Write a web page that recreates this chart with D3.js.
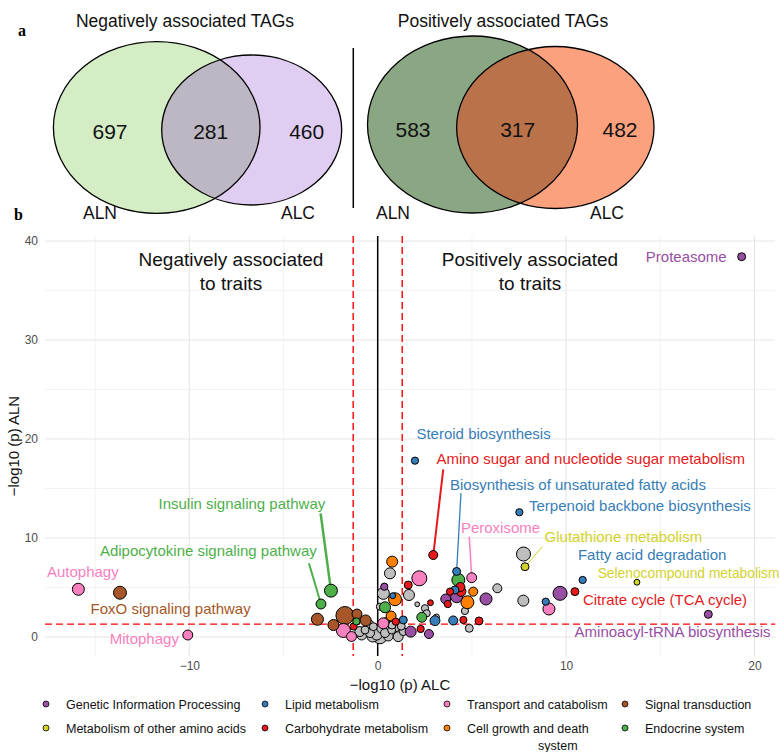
<!DOCTYPE html>
<html><head><meta charset="utf-8">
<script src="https://cdn.jsdelivr.net/npm/d3@7"></script>
<style>
body{margin:0;background:#fff}
svg{display:block;font-family:"Liberation Sans",Arial,Helvetica,sans-serif}
</style>
</head><body><svg id="c" width="780" height="752"></svg>
<script>
// ---------------- DATA ----------------
const vennSetNames = ["ALN", "ALC"];
const vennTitles = ["Negatively associated TAGs", "Positively associated TAGs"];
const vennNegative = [697, 281, 460];   // ALN only, both, ALC only
const vennPositive = [583, 317, 482];

const categories = [
  "Genetic Information Processing", "Lipid metabolism", "Transport and catabolism", "Signal transduction",
  "Metabolism of other amino acids", "Carbohydrate metabolism", "Cell growth and death system", "Endocrine system"
];
const categoryColors = ["#984ea3", "#377eb8", "#f781bf", "#a65628", "#d2d22c", "#e41a1c", "#ff7f00", "#4daf4a"];
const otherColor = "#bebebe";
// category codes: G L T S M C O E, N = other
const catCodes = ["G", "L", "T", "S", "M", "C", "O", "E"];

const pointCategory = ["T","S","T","E","E","S","S","S","S","S","T","T","C","E","N","N","N","N","N","N",
  "N","N","N","N","N","N","N","N","N","N","N","G","L","O","O","E","O","T","C","L",
  "N","C","T","N","N","C","N","E","L","G","C","G","C","L","L","E","T","C","C","C",
  "G","G","C","O","O","G","N","N","N","C","C","L","L","N","M","N","L","G","C","L",
  "T","L","M","G","G","N","N","N","N","N","N","N"];
const pointALC = [-15.89,-13.68,-10.08,-2.48,-3.01,-3.20,-1.74,-1.10,-0.64,-2.35,-1.82,-1.39,-1.28,-1.13,-0.85,-0.67,-0.26,0.12,-0.23,0.21,
  0.56,0.74,1.09,1.36,0.02,-0.41,0.39,0.76,0.12,0.30,0.65,0.35,0.80,0.92,0.77,0.39,0.71,0.30,0.96,1.36,
  1.66,1.62,2.21,2.10,2.51,2.80,2.60,2.34,3.04,1.75,2.28,2.72,2.95,1.98,4.19,4.28,4.99,4.39,4.42,3.84,
  4.19,3.61,3.72,4.76,5.07,5.75,6.35,4.63,4.86,4.55,5.38,4.01,4.10,7.74,7.82,7.73,7.52,9.68,10.47,8.92,
  9.09,10.88,13.76,17.55,19.32,3.12,-0.45,0.95,-0.95,1.25,-0.05,0.45];
const pointALN = [4.82,4.47,0.20,4.68,3.33,1.79,2.17,2.32,1.67,1.21,0.66,0.05,1.06,1.57,0.20,0.71,0.10,0.02,1.04,0.88,
  0.10,0.71,0.03,0.54,0.50,0.40,0.40,1.21,3.06,4.41,6.43,5.08,4.17,3.81,7.61,3.00,2.12,1.38,1.55,1.72,
  4.24,5.25,5.93,3.30,2.90,3.46,2.39,1.99,1.65,0.54,0.81,0.30,8.28,17.81,6.62,5.76,5.99,5.05,4.60,4.58,
  4.07,3.84,3.33,3.51,4.58,3.84,4.92,2.63,0.88,1.72,1.62,1.67,4.75,8.38,7.10,3.67,12.60,4.41,4.58,3.57,
  2.83,5.76,5.53,2.29,38.41,2.02,1.30,1.00,0.55,1.10,0.25,1.60];
const pointGenes = [25,29,17,29,17,25,56,17,21,21,34,17,9,9,17,11,25,34,11,17,
  17,11,17,11,25,14,14,11,9,25,21,9,6,29,21,21,17,21,9,11,
  21,11,39,4,9,6,9,17,17,21,9,14,14,9,11,29,17,14,17,9,
  25,17,9,29,14,25,14,9,11,9,11,14,11,34,11,21,9,34,11,9,
  25,9,6,11,11,6,14,14,17,11,21,9];

const xTicks = [-10, 0, 10, 20];
const yTicks = [0, 10, 20, 30, 40];
const xMinor = [-15, -5, 5, 15];
const yMinor = [5, 15, 25, 35];
const threshold = 1.301; // -log10(0.05)

const labelText = ["Proteasome","Steroid biosynthesis","Amino sugar and nucleotide sugar metabolism",
  "Biosynthesis of unsaturated fatty acids","Terpenoid backbone biosynthesis","Peroxisome","Glutathione metabolism",
  "Fatty acid degradation","Selenocompound metabolism","Citrate cycle (TCA cycle)","Aminoacyl-tRNA biosynthesis",
  "Insulin signaling pathway","Adipocytokine signaling pathway","Autophagy","FoxO signaling pathway","Mitophagy"];
const labelPoint = [84,53,52,54,76,56,74,81,82,78,83,3,4,0,1,2];

// ---------------- LAYOUT (label placement, in data units) ----------------
const labelX = [16.38,5.62,11.31,10.63,13.92,6.52,13.04,14.57,16.40,15.25,15.65,-7.21,-8.99,-15.65,-10.99,-12.39];
const labelY = [38.41,20.58,17.98,15.35,13.26,11.08,10.13,8.28,6.43,3.74,0.54,13.43,8.72,6.60,2.90,-0.13];
const labelSize = {8: 13.8};
const leaderStart = {2:[3.48,16.94], 3:[4.42,14.52], 5:[4.86,10.13], 6:[8.74,9.12], 11:[-3.03,12.49], 12:[-3.65,7.44]};
const leaderWidth = {2:2, 3:1.3, 5:1.5, 6:1, 11:2.5, 12:2};

// ---------------- DRAW ----------------
const svg = d3.select("#c");
const colorOf = c => c === "N" ? otherColor : categoryColors[catCodes.indexOf(c)];

// panel letters
svg.append("text").attr("x", 18).attr("y", 36).attr("font-family", "Liberation Serif, Times New Roman, serif")
  .attr("font-weight", "bold").attr("font-size", 16).text("a");
svg.append("text").attr("x", 14).attr("y", 220).attr("font-family", "Liberation Serif, Times New Roman, serif")
  .attr("font-weight", "bold").attr("font-size", 16).text("b");

// Venn diagrams
const defs = svg.append("defs");
function venn(cfg, counts, title, idx) {
  const g = svg.append("g");
  const [A, B] = cfg.ell;
  g.append("ellipse").attr("cx", A.cx).attr("cy", A.cy).attr("rx", A.rx).attr("ry", A.ry).attr("fill", cfg.colA);
  g.append("ellipse").attr("cx", B.cx).attr("cy", B.cy).attr("rx", B.rx).attr("ry", B.ry).attr("fill", cfg.colB);
  const cid = "clipA" + idx;
  defs.append("clipPath").attr("id", cid).append("ellipse")
    .attr("cx", A.cx).attr("cy", A.cy).attr("rx", A.rx).attr("ry", A.ry);
  g.append("ellipse").attr("cx", B.cx).attr("cy", B.cy).attr("rx", B.rx).attr("ry", B.ry)
    .attr("fill", cfg.colAB).attr("clip-path", `url(#${cid})`);
  [A, B].forEach(e => g.append("ellipse").attr("cx", e.cx).attr("cy", e.cy).attr("rx", e.rx).attr("ry", e.ry)
    .attr("fill", "none").attr("stroke", "#000").attr("stroke-width", 1.3));
  counts.forEach((v, i) => g.append("text").attr("x", cfg.numX[i]).attr("y", cfg.numY).attr("dy", "0.36em")
    .attr("text-anchor", "middle").attr("font-size", 21).attr("fill", "#111").text(v));
  vennSetNames.forEach((n, i) => g.append("text").attr("x", cfg.setX[i]).attr("y", 219)
    .attr("text-anchor", "middle").attr("font-size", 17.5).attr("fill", "#111").text(n));
  g.append("text").attr("x", cfg.titleX).attr("y", 27).attr("text-anchor", "middle")
    .attr("font-size", 17.5).attr("fill", "#111").text(title);
}
venn({ell:[{cx:156.7,cy:127.5,rx:103.3,ry:85.8},{cx:251.7,cy:130,rx:90,ry:75}],
  colA:"#d4edc5", colB:"#e0cdf2", colAB:"#bcb7c3", numX:[110,210.7,306.7], numY:131.7,
  setX:[100,298], titleX:185}, vennNegative, vennTitles[0], 0);
venn({ell:[{cx:472.5,cy:124.5,rx:105,ry:88.5},{cx:555.3,cy:127.5,rx:98.7,ry:81}],
  colA:"#8ba682", colB:"#fca17d", colAB:"#b9724a", numX:[413,517.7,620], numY:129,
  setX:[393,607], titleX:503}, vennPositive, vennTitles[1], 1);
svg.append("line").attr("x1", 353.3).attr("x2", 353.3).attr("y1", 48).attr("y2", 208)
  .attr("stroke", "#000").attr("stroke-width", 1.5);

// Scatter
const x = d3.scaleLinear().domain([-17.66, 21.1]).range([45, 775.2]);
const y = d3.scaleLinear().domain([-1.93, 40.5]).range([656.1, 236]);
const r = d3.scaleSqrt().domain([0, 56]).range([0, 9]);
const [x0, x1] = x.range(), [y0, y1] = y.range();

const grid = svg.append("g");
xMinor.forEach(v => grid.append("line").attr("x1", x(v)).attr("x2", x(v)).attr("y1", y1).attr("y2", y0)
  .attr("stroke", "#f0f0f0").attr("stroke-width", 0.8));
yMinor.forEach(v => grid.append("line").attr("y1", y(v)).attr("y2", y(v)).attr("x1", x0).attr("x2", x1)
  .attr("stroke", "#f0f0f0").attr("stroke-width", 0.8));
xTicks.forEach(v => grid.append("line").attr("x1", x(v)).attr("x2", x(v)).attr("y1", y1).attr("y2", y0)
  .attr("stroke", "#e6e6e6").attr("stroke-width", 1.1));
yTicks.forEach(v => grid.append("line").attr("y1", y(v)).attr("y2", y(v)).attr("x1", x0).attr("x2", x1)
  .attr("stroke", "#e6e6e6").attr("stroke-width", 1.1));

// axes (tick labels only, theme_minimal)
const xAxis = svg.append("g").attr("transform", `translate(0,${y0 + 2})`)
  .call(d3.axisBottom(x).tickValues(xTicks).tickSize(0).tickPadding(3).tickFormat(d => d < 0 ? "\u2212" + Math.abs(d) : d));
const yAxis = svg.append("g").attr("transform", `translate(${x0 - 2},0)`)
  .call(d3.axisLeft(y).tickValues(yTicks).tickSize(0).tickPadding(5));
[xAxis, yAxis].forEach(a => {
  a.select(".domain").remove();
  a.selectAll("text").attr("font-size", 12).attr("fill", "#4d4d4d").attr("font-family", "Liberation Sans, Arial, sans-serif");
});

svg.append("text").attr("x", 400).attr("y", 690).attr("text-anchor", "middle").attr("font-size", 15)
  .attr("fill", "#111").text("\u2212log10 (p) ALC");
svg.append("text").attr("transform", `translate(19,${(y0 + y1) / 2}) rotate(-90)`).attr("text-anchor", "middle")
  .attr("font-size", 15).attr("fill", "#111").text("\u2212log10 (p) ALN");

// reference lines
svg.append("line").attr("x1", x(0)).attr("x2", x(0)).attr("y1", y1).attr("y2", y0)
  .attr("stroke", "#000").attr("stroke-width", 1.5);
[-threshold, threshold].forEach(v => svg.append("line").attr("x1", x(v)).attr("x2", x(v)).attr("y1", y1).attr("y2", y0)
  .attr("stroke", "#ff0000").attr("stroke-width", 1.4).attr("stroke-dasharray", "7,4"));
svg.append("line").attr("x1", x0).attr("x2", x1).attr("y1", y(threshold)).attr("y2", y(threshold))
  .attr("stroke", "#ff0000").attr("stroke-width", 1.4).attr("stroke-dasharray", "7,4");

// annotation headings
[["Negatively associated", "to traits", 231], ["Positively associated", "to traits", 530]].forEach(([a, b, cx]) => {
  const t = svg.append("text").attr("text-anchor", "middle").attr("font-size", 19).attr("fill", "#111");
  t.append("tspan").attr("x", cx).attr("y", 266).text(a);
  t.append("tspan").attr("x", cx).attr("y", 290).text(b);
});

// leader segments
labelText.forEach((t, i) => {
  if (!leaderStart[i]) return;
  const p = labelPoint[i];
  svg.append("line").attr("x1", x(leaderStart[i][0])).attr("y1", y(leaderStart[i][1]))
    .attr("x2", x(pointALC[p])).attr("y2", y(pointALN[p]))
    .attr("stroke", colorOf(pointCategory[p])).attr("stroke-width", leaderWidth[i]);
});

// points
const pts = pointALC.map((v, i) => ({x: v, y: pointALN[i], c: pointCategory[i], n: pointGenes[i]}));
const order = pts.slice().sort((a, b) => ((a.c === "N" ? 0 : 1) - (b.c === "N" ? 0 : 1)) || (b.n - a.n));
svg.append("g").selectAll("circle").data(order).join("circle")
  .attr("cx", d => x(d.x)).attr("cy", d => y(d.y)).attr("r", d => r(d.n))
  .attr("fill", d => colorOf(d.c)).attr("stroke", "#000").attr("stroke-width", 1);

// labels
labelText.forEach((t, i) => {
  const fs = labelSize[i] || 15;
  const anchor = i === 8 ? "start" : "middle";
  const lx = i === 8 ? x(labelX[i]) - 89 : x(labelX[i]);
  svg.append("text").attr("x", lx).attr("y", y(labelY[i])).attr("dy", "0.36em")
    .attr("text-anchor", anchor).attr("font-size", fs).attr("fill", colorOf(pointCategory[labelPoint[i]])).text(t);
});

// legend
const legX = [46, 265, 447, 625];
const legY = [704, 728];
categories.forEach((c, i) => {
  const col = i % 4, row = Math.floor(i / 4);
  const g = svg.append("g");
  g.append("circle").attr("cx", legX[col]).attr("cy", legY[row]).attr("r", 3)
    .attr("fill", categoryColors[i]).attr("stroke", "#000").attr("stroke-width", 0.8);
  const lines = c === "Cell growth and death system" ? ["Cell growth and death", "system"] : [c];
  const t = g.append("text").attr("font-size", 12.5).attr("fill", "#111");
  t.append("tspan").attr("x", legX[col] + 20).attr("y", legY[row]).attr("dy", "0.36em").text(lines[0]);
  if (lines[1]) t.append("tspan").attr("x", legX[col] + 91).attr("y", legY[row] + 17).attr("dy", "0.36em").text(lines[1]);
});
</script>
</body></html>
